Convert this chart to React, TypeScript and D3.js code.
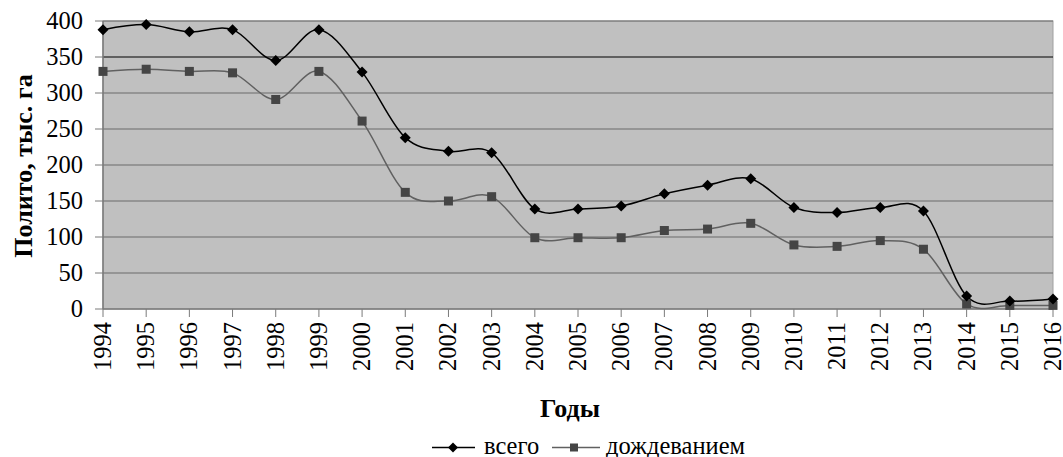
import React from "react";
import * as d3 from "d3";

const years = ["1994","1995","1996","1997","1998","1999","2000","2001","2002","2003","2004","2005","2006","2007","2008","2009","2010","2011","2012","2013","2014","2015","2016"];
const total = [388, 395, 385, 388, 345, 388, 329, 238, 219, 217, 139, 139, 143, 160, 172, 181, 141, 134, 141, 136, 18, 11, 14];
const sprinkling = [330, 333, 330, 328, 291, 330, 261, 162, 150, 156, 99, 99, 99, 109, 111, 119, 89, 87, 95, 83, 7, 5, 5];
const yTicks = [0, 50, 100, 150, 200, 250, 300, 350, 400];
const seriesNames = ["всего", "дождеванием"];

const W = 1063, H = 457;
const L = 103, R = 1053, T = 21, B = 309;
const FONT = "'Liberation Serif', 'Times New Roman', serif";

export default function App() {
  const x = d3.scalePoint<string>().domain(years).range([L, R]);
  const y = d3.scaleLinear().domain([0, 400]).range([B, T]);
  const line = (vals: number[]) =>
    d3.line<number>()
      .x((_, i) => x(years[i]) as number)
      .y((v) => y(v))
      .curve(d3.curveCatmullRom.alpha(0))(vals) as string;

  const diamond = (cx: number, cy: number, r = 5) =>
    `M${cx},${cy - r}L${cx + r},${cy}L${cx},${cy + r}L${cx - r},${cy}Z`;

  return (
    <svg width={W} height={H} style={{ position: "absolute", left: 0, top: 0, display: "block", fontFamily: FONT }}>
      <rect x={0} y={0} width={W} height={H} fill="#fff" />
      <rect x={L} y={T} width={R - L} height={B - T} fill="#c0c0c0" stroke="#a0a0a0" strokeWidth={1} />
      {yTicks.filter((t) => t > 0).map((t) => (
        <line key={t} x1={L} x2={R} y1={y(t)} y2={y(t)} stroke={t === 350 ? "#000" : "#6a6a6a"} strokeWidth={1} />
      ))}
      <line x1={L} x2={L} y1={T} y2={B} stroke="#7a7a7a" strokeWidth={1.5} />
      <line x1={L} x2={R} y1={B} y2={B} stroke="#7a7a7a" strokeWidth={1.5} />
      {yTicks.map((t) => (
        <g key={t}>
          <line x1={L - 8} x2={L} y1={y(t)} y2={y(t)} stroke="#7a7a7a" strokeWidth={1} />
          <text x={83} y={y(t)} dy="0.34em" textAnchor="end" fontSize={24.5} fill="#000">{t}</text>
        </g>
      ))}
      {years.map((yr) => (
        <g key={yr}>
          <line x1={x(yr)} x2={x(yr)} y1={B} y2={B + 8} stroke="#7a7a7a" strokeWidth={1} />
          <text transform={`translate(${(x(yr) as number) + 8},${B + 13}) rotate(-90)`} textAnchor="end" fontSize={24.5} fill="#000">{yr}</text>
        </g>
      ))}
      <path d={line(sprinkling)} fill="none" stroke="#606060" strokeWidth={1.5} />
      <path d={line(total)} fill="none" stroke="#000" strokeWidth={1.5} />
      {sprinkling.map((v, i) => (
        <rect key={i} x={(x(years[i]) as number) - 4.5} y={y(v) - 4.5} width={9} height={9} fill="#454545" />
      ))}
      {total.map((v, i) => (
        <path key={i} d={diamond(x(years[i]) as number, y(v), 5.5)} fill="#000" />
      ))}
      <text transform={`translate(32,166) rotate(-90)`} textAnchor="middle" fontSize={26} fontWeight="bold" fill="#000">Полито, тыс. га</text>
      <text x={570} y={417} textAnchor="middle" fontSize={26} fontWeight="bold" fill="#000">Годы</text>
      <g>
        <line x1={432} x2={475} y1={447.5} y2={447.5} stroke="#000" strokeWidth={1.5} />
        <path d={diamond(453, 447.5, 5)} fill="#000" />
        <text x={484} y={454} fontSize={24.5} fill="#000">{seriesNames[0]}</text>
        <line x1={552} x2={600} y1={447.5} y2={447.5} stroke="#606060" strokeWidth={1.5} />
        <rect x={570} y={443.5} width={8} height={8} fill="#454545" />
        <text x={606} y={454} fontSize={24.5} fill="#000">{seriesNames[1]}</text>
      </g>
    </svg>
  );
}
